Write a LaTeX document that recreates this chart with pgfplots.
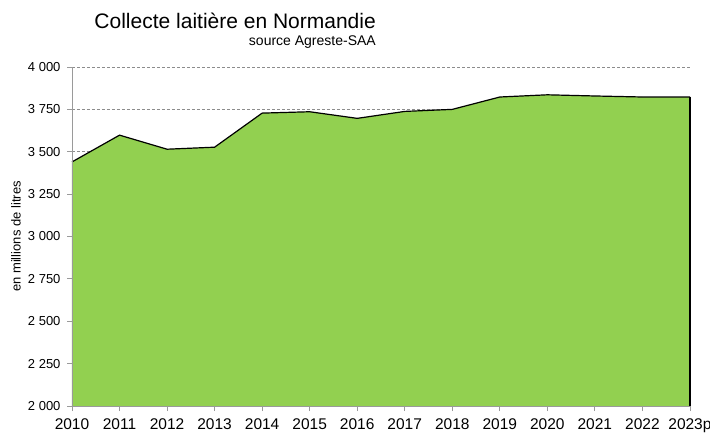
\documentclass[border=0pt]{standalone}
\usepackage{fontspec}
\setmainfont{Liberation Sans}
\usepackage{pgfplots}
\usepackage{pgfplotstable}
\pgfplotsset{compat=1.18}
\definecolor{vert}{HTML}{92D050}
\definecolor{grille}{HTML}{8C8C8C}
\definecolor{axe}{HTML}{9A9A9A}

% collecte annuelle, millions de litres
\pgfplotstableread{
annee collecte
2010 3440
2011 3598
2012 3515
2013 3527
2014 3728
2015 3736
2016 3697
2017 3738
2018 3750
2019 3823
2020 3836
2021 3829
2022 3823
2023 3823
}\collecte

\begin{document}
\begin{tikzpicture}
  \path[use as bounding box] (-72pt,-26pt) rectangle (638pt,406pt);
  \begin{axis}[
      at={(0,0)}, anchor=south west,
      scale only axis, width=618pt, height=339pt,
      xmin=2010, xmax=2023, ymin=2000, ymax=4000,
      clip=false,
      axis line style={draw=none},
      xtick={2010,...,2023},
      xticklabels={2010,2011,2012,2013,2014,2015,2016,2017,2018,2019,2020,2021,2022,2023p},
      ytick={2000,2250,...,4000},
      xtick pos=bottom, ytick pos=left,
      tick align=outside, major tick length=5pt,
      tick style={axe, line width=0.8pt},
      ymajorgrids, grid style={grille, dash pattern=on 3pt off 2pt, line width=0.6pt},
      /pgf/number format/assume math mode=true,
      /pgf/number format/1000 sep={\ },
      yticklabel style={font=\fontsize{13}{15}\selectfont, xshift=-3pt},
      xticklabel style={font=\fontsize{15.5}{17}\selectfont, yshift=-4pt},
      ylabel={en millions de litres},
      every axis y label/.style={at={(axis description cs:0,0.5)}, rotate=90,
        anchor=center, yshift=56pt, font=\fontsize{13}{15}\selectfont},
    ]
    \addplot[fill=vert, draw=none] table[x=annee, y=collecte] {\collecte}
      -- (axis cs:2023,2000) -- (axis cs:2010,2000) -- cycle;
    \addplot[black, line width=1.2pt] table[x=annee, y=collecte] {\collecte};
    \addplot[black, line width=1.2pt] coordinates {(2023,3823) (2023,2000)};
    \draw[axe, line width=0.8pt] (rel axis cs:0,1) -- (rel axis cs:0,0) -- (rel axis cs:1,0);
  \end{axis}
  \node[anchor=base east, inner sep=0pt, font=\fontsize{21}{24}\selectfont]
    at (304pt,377pt) {Collecte laitière en Normandie};
  \node[anchor=base east, inner sep=0pt, font=\fontsize{14}{16}\selectfont]
    at (304pt,360pt) {source Agreste-SAA};
\end{tikzpicture}
\end{document}
